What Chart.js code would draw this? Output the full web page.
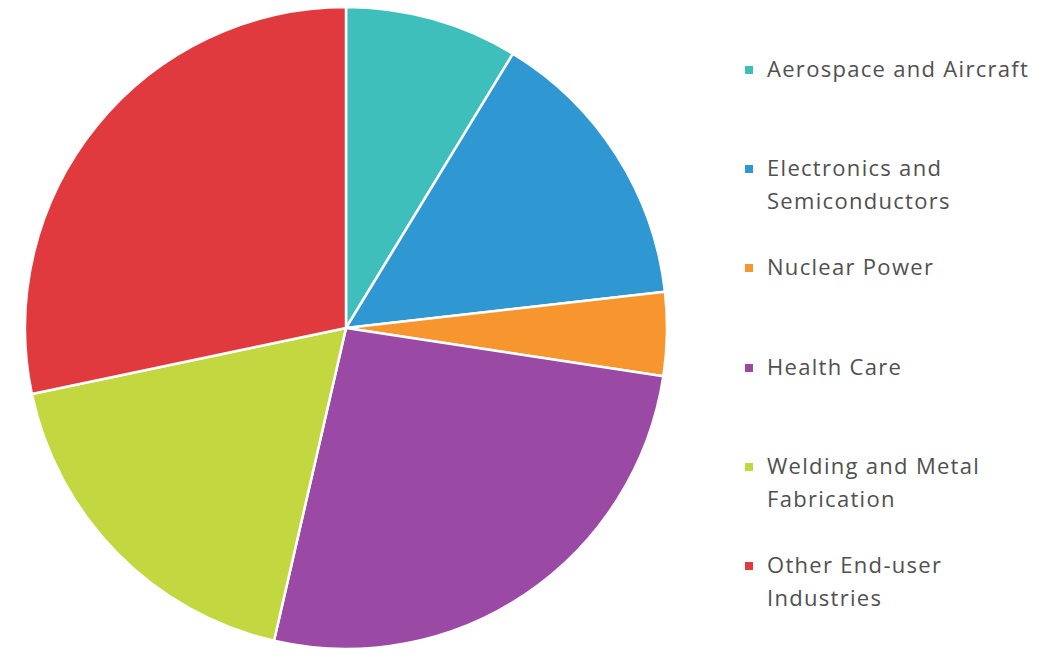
<!DOCTYPE html>
<html>
<head>
<meta charset="utf-8">
<script src="https://cdn.jsdelivr.net/npm/chart.js@4/dist/chart.umd.min.js"></script>
<style>
  html, body { margin: 0; padding: 0; background: #ffffff; }
  body { width: 1048px; height: 666px; position: relative; overflow: hidden; }
  #pieWrap { position: absolute; left: 24px; top: 6px; width: 644px; height: 644px; }
  #legend { position: absolute; left: 745px; top: 52px; width: 303px; font-family: "Open Sans", Lato, sans-serif; font-weight: 400; font-size: 22px; letter-spacing: 1.3px; color: #505050; }
  .item { position: absolute; left: 0; display: flex; align-items: flex-start; line-height: 33px; white-space: nowrap; }
  .box { width: 8px; height: 8px; margin-top: 14px; margin-right: 14px; flex: none; }
</style>
</head>
<body>
<div id="pieWrap"><canvas id="pie"></canvas></div>
<div id="legend"></div>
<script>
// Market share by end-user industry (%)
const categories = [
  'Aerospace and Aircraft',
  'Electronics and Semiconductors',
  'Nuclear Power',
  'Health Care',
  'Welding and Metal Fabrication',
  'Other End-user Industries'
];
// Legend lines for each category
const legendLines = [
  ['Aerospace and Aircraft'],
  ['Electronics and', 'Semiconductors'],
  ['Nuclear Power'],
  ['Health Care'],
  ['Welding and Metal', 'Fabrication'],
  ['Other End-user', 'Industries']
];
const shares = [8.7, 14.5, 4.2, 26.2, 18.1, 28.3];
const colors = ['#3fbfbc', '#2f97d1', '#f7962f', '#9a49a5', '#c3d840', '#e03a3f'];

const chart = new Chart(document.getElementById('pie'), {
  type: 'pie',
  data: {
    labels: categories,
    datasets: [{
      data: shares,
      backgroundColor: colors,
      borderColor: '#ffffff',
      borderWidth: 2.5
    }]
  },
  options: {
    responsive: true,
    maintainAspectRatio: false,
    animation: false,
    radius: 321,
    layout: { padding: 0 },
    plugins: {
      legend: { display: false },
      tooltip: { enabled: false }
    }
  }
});

// HTML legend built from the chart's own labels and colours
const legend = document.getElementById('legend');
chart.data.labels.forEach((label, i) => {
  const item = document.createElement('div');
  item.className = 'item';
  item.style.top = (i * 99.2) + 'px';
  const box = document.createElement('span');
  box.className = 'box';
  box.style.background = chart.data.datasets[0].backgroundColor[i];
  const text = document.createElement('div');
  text.innerHTML = legendLines[i].join('<br>');
  item.appendChild(box);
  item.appendChild(text);
  legend.appendChild(item);
});
</script>
</body>
</html>
